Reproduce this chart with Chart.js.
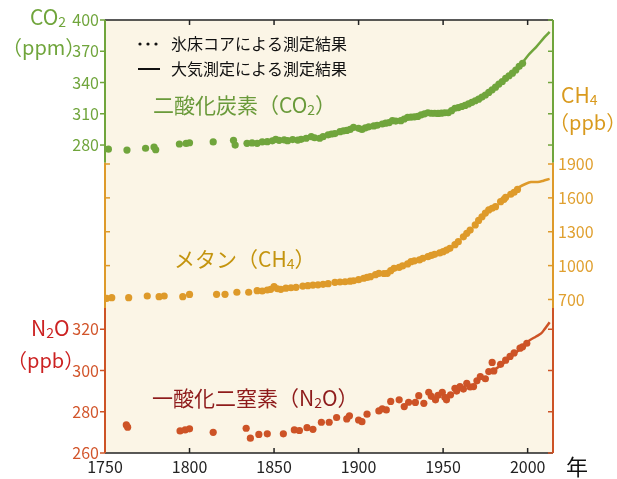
<!DOCTYPE html>
<html>
<head>
<meta charset="utf-8">
<script src="https://cdn.jsdelivr.net/npm/chart.js@4.4.1/dist/chart.umd.min.js"></script>
<style>
  html, body { margin: 0; padding: 0; background: #fff; }
  canvas { display: block; }
</style>
</head>
<body>
<canvas id="ghgChart" width="617" height="479"></canvas>
<script>
// 氷床コア (points)
const co2Years = [1752, 1763, 1774, 1779, 1780, 1794, 1798, 1800, 1814, 1826, 1827, 1834, 1837, 1840, 1843, 1846, 1849, 1851, 1853, 1856, 1858, 1861, 1864, 1866, 1869, 1872, 1874, 1877, 1879, 1882, 1884, 1886, 1889, 1891, 1893, 1895, 1897, 1900, 1902, 1904, 1906, 1909, 1911, 1914, 1916, 1918, 1920, 1922, 1925, 1927, 1929, 1931, 1933, 1935, 1937, 1939, 1941, 1943, 1945, 1947, 1949, 1951, 1953, 1955, 1957, 1959, 1961, 1963, 1965, 1967, 1969, 1971, 1973, 1975, 1977, 1979, 1981, 1983, 1985, 1987, 1989, 1991, 1993, 1995, 1997];
const co2Values = [276, 275.2, 276.9, 278, 275.5, 281, 281.5, 282.2, 283, 284.5, 280, 281.6, 282, 281.6, 283, 283.2, 284, 285.5, 284.5, 285, 284.2, 285.2, 284.8, 285.5, 286.5, 288, 287, 286.5, 288, 289.8, 290.6, 291, 292.8, 293.5, 294, 295, 297, 296, 295, 296.5, 297.5, 298.3, 299, 300.2, 301, 301.5, 303.4, 303, 303.4, 305, 306.6, 306.8, 307, 307.5, 309, 310, 311, 310.5, 310.5, 310.3, 310.6, 311, 311, 313, 315.3, 316, 317, 318, 319.5, 321, 322.5, 324, 326, 328, 330.5, 333, 335.5, 338.5, 341, 344, 346.5, 349, 352, 355.5, 358.4];

const ch4Years = [1751, 1754, 1764, 1775, 1782, 1785, 1796, 1800, 1816, 1821, 1828, 1835, 1840, 1843, 1846, 1848, 1850, 1852, 1854, 1857, 1860, 1863, 1867, 1870, 1873, 1876, 1879, 1882, 1886, 1889, 1892, 1895, 1897, 1900, 1903, 1905, 1907, 1910, 1912, 1915, 1917, 1919, 1921, 1924, 1926, 1929, 1931, 1933, 1936, 1938, 1941, 1943, 1945, 1948, 1950, 1952, 1954, 1957, 1959, 1962, 1964, 1966, 1969, 1971, 1973, 1975, 1977, 1979, 1981, 1984, 1986, 1987, 1990, 1992, 1994];
const ch4Values = [710, 716, 716, 731, 725, 731, 725, 745, 746, 746, 764, 764, 778, 775, 784, 790, 813, 795, 790, 800, 804, 808, 819, 822, 828, 830, 834, 840, 852, 855, 857, 862, 866, 875, 888, 895, 902, 920, 932, 930, 932, 955, 976, 985, 997, 1015, 1035, 1042, 1050, 1065, 1079, 1090, 1100, 1112, 1123, 1138, 1153, 1185, 1212, 1255, 1286, 1315, 1360, 1400, 1433, 1465, 1493, 1508, 1522, 1566, 1587, 1605, 1632, 1650, 1675];

const n2oYears = [1762.6, 1763.4, 1794.4, 1797.4, 1800, 1814, 1833.5, 1836, 1841, 1846, 1855.5, 1862, 1865, 1869.5, 1873, 1878, 1882.6, 1887, 1893, 1894.6, 1900, 1902, 1905, 1912, 1914, 1916.4, 1919, 1924, 1927, 1929.6, 1933.6, 1935.6, 1938.6, 1941.5, 1943, 1945.5, 1947, 1949.5, 1951, 1952, 1954.4, 1957, 1958, 1960, 1962, 1964, 1966, 1968, 1970, 1972, 1975, 1977, 1979, 1980, 1984, 1987, 1989.6, 1992, 1995.5, 1997, 1999.5];
const n2oValues = [273.6, 272.5, 270.7, 271.2, 271.7, 270, 272, 267.2, 269, 269.3, 269.3, 271.2, 270.9, 272.3, 271.5, 274.9, 274.9, 277.2, 276.5, 278, 276, 275.2, 278.8, 280.4, 281.4, 280.9, 285, 285.8, 282.5, 284.6, 284.5, 287.8, 284.1, 289.4, 287.5, 285.8, 288, 289.4, 287, 285.8, 288.2, 291.4, 290, 292.2, 291, 293.8, 292, 292.2, 295, 297, 296, 299.5, 303.9, 299.8, 303, 305, 306.8, 308.5, 310.8, 311.5, 313.2];

// 大気測定 (lines)
const co2AtmYears = [1958, 1965, 1970, 1975, 1980, 1985, 1990, 1995, 2000, 2005, 2010, 2013];
const co2AtmValues = [315.3, 319.5, 323.2, 328, 334.4, 340.8, 347.5, 355, 365.5, 374, 383.5, 388.5];
const ch4AtmYears = [1983, 1987, 1991, 1995, 1999, 2002, 2006, 2009, 2013];
const ch4AtmValues = [1560, 1610, 1650, 1695, 1725, 1740, 1740, 1750, 1768];
const n2oAtmYears = [1978, 1985, 1990, 1995, 2000, 2005, 2008, 2010, 2013];
const n2oAtmValues = [299, 303, 306.5, 310, 314, 316.5, 318, 320, 323.4];

const yearTicks = [1750, 1800, 1850, 1900, 1950, 2000];
const co2Ticks = [280, 310, 340, 370, 400];
const ch4Ticks = [700, 1000, 1300, 1600, 1900];
const n2oTicks = [260, 280, 300, 320];

const FONT = '"Noto Sans CJK JP", "Noto Sans", sans-serif';
const GREEN = '#70a53c';
const ORANGE = '#de9a2a';
const RUST = '#cd5326';

function pts(xs, ys) {
    return xs.map((x, i) => ({ x: x, y: ys[i] }));
}

// 文字列を部分ごとに描く（下付き文字用）
function rich(ctx, x, y, parts, color) {
    let cx = x;
    ctx.fillStyle = color;
    ctx.textAlign = 'left';
    ctx.textBaseline = 'middle';
    parts.forEach(p => {
        ctx.font = p[1] + 'px ' + FONT;
        ctx.fillText(p[0], cx, y + (p[2] || 0));
        cx += ctx.measureText(p[0]).width;
    });
}

function line(ctx, x1, y1, x2, y2, color, w) {
    ctx.strokeStyle = color;
    ctx.lineWidth = w || 1.5;
    ctx.beginPath();
    ctx.moveTo(x1, y1);
    ctx.lineTo(x2, y2);
    ctx.stroke();
}

const decorPlugin = {
    id: 'decor',
    beforeDraw(chart) {
        const { ctx, chartArea: a } = chart;
        ctx.save();
        ctx.fillStyle = '#fbf5e6';
        ctx.fillRect(a.left, a.top, a.right - a.left, a.bottom - a.top);
        ctx.restore();
    },
    afterDraw(chart) {
        const { ctx, chartArea: a } = chart;
        const x = chart.scales.x, co2 = chart.scales.co2, ch4 = chart.scales.ch4, n2o = chart.scales.n2o;
        ctx.save();
        // 枠 (上下)
        line(ctx, a.left, a.top, a.right, a.top, '#222', 1.5);
        line(ctx, a.left, a.bottom, a.right, a.bottom, '#222', 1.5);
        yearTicks.forEach(v => {
            const px = x.getPixelForValue(v);
            line(ctx, px, a.top, px, a.top + 5, '#222', 1.5);
            line(ctx, px, a.bottom, px, a.bottom - 5, '#222', 1.5);
        });
        // 縦軸 (色分け)
        const gTop = co2.getPixelForValue(400), gBot = ch4.getPixelForValue(1910);
        const oBot = ch4.getPixelForValue(625), rBot = n2o.getPixelForValue(260);
        [a.left, a.right].forEach(px => {
            line(ctx, px, gTop, px, gBot, GREEN, 2);
            line(ctx, px, gBot, px, oBot, ORANGE, 2);
            line(ctx, px, oBot, px, rBot, RUST, 2);
        });
        co2Ticks.forEach(v => {
            const py = co2.getPixelForValue(v);
            line(ctx, a.left - 5, py, a.left, py, GREEN, 1.5);
            line(ctx, a.right - 5, py, a.right, py, GREEN, 1.5);
        });
        ch4Ticks.forEach(v => {
            const py = ch4.getPixelForValue(v);
            line(ctx, a.left, py, a.left + 5, py, ORANGE, 1.5);
            line(ctx, a.right - 5, py, a.right, py, ORANGE, 1.5);
        });
        n2oTicks.forEach(v => {
            const py = n2o.getPixelForValue(v);
            line(ctx, a.left - 5, py, a.left, py, RUST, 1.5);
            line(ctx, a.right - 5, py, a.right, py, RUST, 1.5);
        });

        // 軸タイトル
        rich(ctx, 30, 17, [['CO', 21], ['2', 14, 5]], GREEN);
        rich(ctx, 2, 47, [['（ppm）', 20]], GREEN);
        rich(ctx, 561, 95, [['CH', 21], ['4', 14, 5]], '#d99a1e');
        rich(ctx, 549, 122, [['（ppb）', 20]], '#d99a1e');
        rich(ctx, 31, 328, [['N', 21], ['2', 14, 5], ['O', 21]], '#cc2222');
        rich(ctx, 7, 360, [['（ppb）', 20]], '#cc2222');

        // 系列名
        rich(ctx, 153, 105, [['二酸化炭素（CO', 21], ['2', 14, 5], ['）', 21]], '#6a9a3a');
        rich(ctx, 174, 259, [['メタン（CH', 21], ['4', 14, 5], ['）', 21]], '#c4940e');
        rich(ctx, 152, 398, [['一酸化二窒素（N', 21], ['2', 14, 5], ['O）', 21]], '#8e1b1b');

        // 凡例
        ctx.fillStyle = '#111';
        [140, 148, 156].forEach(px => {
            ctx.beginPath();
            ctx.arc(px, 44, 1.6, 0, Math.PI * 2);
            ctx.fill();
        });
        line(ctx, 138, 69, 160, 69, '#111', 2);
        rich(ctx, 171, 44, [['氷床コアによる測定結果', 16]], '#111');
        rich(ctx, 171, 69, [['大気測定による測定結果', 16]], '#111');

        rich(ctx, 566, 467, [['年', 22]], '#111');
        ctx.restore();
    }
};

const ctx = document.getElementById('ghgChart').getContext('2d');
const ghgChart = new Chart(ctx, {
    type: 'scatter',
    data: {
        datasets: [
            { label: 'CO2 ice', data: pts(co2Years, co2Values), yAxisID: 'co2',
              backgroundColor: GREEN, borderWidth: 0, pointRadius: 3.6 },
            { label: 'CO2 atm', data: pts(co2AtmYears, co2AtmValues), yAxisID: 'co2',
              showLine: true, borderColor: GREEN, borderWidth: 2.5, pointRadius: 0, tension: 0.3 },
            { label: 'CH4 ice', data: pts(ch4Years, ch4Values), yAxisID: 'ch4',
              backgroundColor: ORANGE, borderWidth: 0, pointRadius: 3.6 },
            { label: 'CH4 atm', data: pts(ch4AtmYears, ch4AtmValues), yAxisID: 'ch4',
              showLine: true, borderColor: ORANGE, borderWidth: 2.5, pointRadius: 0, tension: 0.3 },
            { label: 'N2O ice', data: pts(n2oYears, n2oValues), yAxisID: 'n2o',
              backgroundColor: RUST, borderWidth: 0, pointRadius: 3.6 },
            { label: 'N2O atm', data: pts(n2oAtmYears, n2oAtmValues), yAxisID: 'n2o',
              showLine: true, borderColor: RUST, borderWidth: 2.5, pointRadius: 0, tension: 0.3 }
        ]
    },
    options: {
        responsive: false,
        animation: false,
        layout: { padding: { top: 20, left: 0, right: 0, bottom: 0 } },
        plugins: { legend: { display: false }, tooltip: { enabled: false } },
        scales: {
            x: {
                type: 'linear', position: 'bottom', min: 1750, max: 2015,
                grid: { display: false, drawTicks: false }, border: { display: false },
                afterBuildTicks: s => { s.ticks = yearTicks.map(v => ({ value: v })); },
                afterFit: s => { s.height = 26; },
                ticks: { color: '#222', padding: 4, font: { family: FONT, size: 16 }, callback: v => String(v) }
            },
            n2o: {
                type: 'linear', position: 'left', stack: 'left', stackWeight: 145, min: 260, max: 330.3,
                grid: { display: false, drawTicks: false }, border: { display: false },
                afterBuildTicks: s => { s.ticks = n2oTicks.map(v => ({ value: v })); },
                afterFit: s => { s.width = 105; },
                ticks: { color: '#d2552b', padding: 6, font: { family: FONT, size: 16 } }
            },
            co2: {
                type: 'linear', position: 'left', stack: 'left', stackWeight: 288, min: 123.6, max: 400,
                grid: { display: false, drawTicks: false }, border: { display: false },
                afterBuildTicks: s => { s.ticks = co2Ticks.map(v => ({ value: v })); },
                afterFit: s => { s.width = 105; },
                ticks: { color: GREEN, padding: 6, font: { family: FONT, size: 16 } }
            },
            ch4: {
                type: 'linear', position: 'right', min: -659.8, max: 3175.5,
                grid: { display: false, drawTicks: false }, border: { display: false },
                afterBuildTicks: s => { s.ticks = ch4Ticks.map(v => ({ value: v })); },
                afterFit: s => { s.width = 64; },
                ticks: { color: '#e0a030', padding: 5, font: { family: FONT, size: 16 }, callback: v => String(v) }
            }
        }
    },
    plugins: [decorPlugin]
});
</script>
</body>
</html>
